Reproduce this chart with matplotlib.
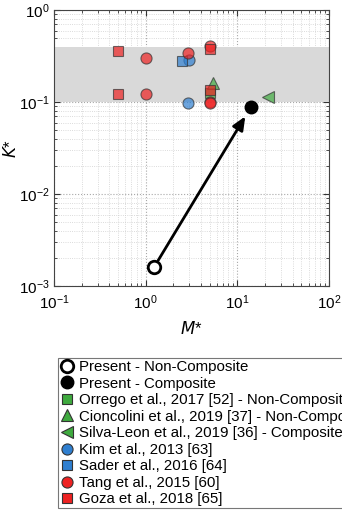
import numpy as np
import matplotlib
matplotlib.use("Agg")
from matplotlib import pyplot as plt
from matplotlib.ticker import LogLocator, NullFormatter

plt.rcParams['font.family'] = ['Liberation Sans', 'DejaVu Sans']

# data (M*, K*)
present_nc_m = [1.23]
present_nc_k = [0.0016]
present_c_m = [14.1]
present_c_k = [0.089]
orrego_m = [5.0]
orrego_k = [0.125]
cioncolini_m = [5.4]
cioncolini_k = [0.16]
silva_m = [21.5]
silva_k = [0.113]
kim_m = [2.88, 2.98]
kim_k = [0.098, 0.29]
sader_m = [2.5]
sader_k = [0.28]
tang_m = [1.0, 1.0, 2.88, 5.0, 5.0, 5.0]
tang_k = [0.30, 0.122, 0.345, 0.41, 0.10, 0.097]
goza_m = [0.5, 0.5, 5.0, 5.0]
goza_k = [0.36, 0.122, 0.38, 0.137]
band_lo, band_hi = 0.1, 0.4

green = '#3faa3f'
blue = '#2f7fd0'
red = '#ee2222'
edge = '#333333'

fig = plt.figure(figsize=(3.42, 5.11), dpi=100)
ax = fig.add_axes([0.158, 0.440, 0.804, 0.540])

ax.axhspan(band_lo, band_hi, color='#d9d9d9', zorder=1, lw=0)

def pts(m, k, marker, color, label, ms=8, alpha=0.7):
    ax.plot(m, k, ls='none', marker=marker, ms=ms, mfc=color, mec=edge,
            mew=0.8, alpha=alpha, zorder=3)
    # legend handle at full opacity
    return ax.plot([], [], ls='none', marker=marker, ms=ms, mfc=color,
                   mec=edge, mew=0.8, label=label)[0]

h1 = ax.plot(present_nc_m, present_nc_k, ls='none', marker='o', ms=9, mfc='white',
             mec='black', mew=2, zorder=5, label='Present - Non-Composite')[0]
h2 = ax.plot(present_c_m, present_c_k, ls='none', marker='o', ms=9, mfc='black',
             mec='black', zorder=5, label='Present - Composite')[0]
h3 = pts(orrego_m, orrego_k, 's', green, 'Orrego et al., 2017 [52] - Non-Composite', ms=7.5)
h4 = pts(cioncolini_m, cioncolini_k, '^', green, 'Cioncolini et al., 2019 [37] - Non-Composite')
h5 = pts(silva_m, silva_k, '<', green, 'Silva-Leon et al., 2019 [36] - Composite')
h6 = pts(kim_m, kim_k, 'o', blue, 'Kim et al., 2013 [63]')
h7 = pts(sader_m, sader_k, 's', blue, 'Sader et al., 2016 [64]', ms=7.5)
h8 = pts(tang_m, tang_k, 'o', red, 'Tang et al., 2015 [60]')
h9 = pts(goza_m, goza_k, 's', red, 'Goza et al., 2018 [65]', ms=7.5)

# arrow from non-composite to composite
ax.annotate('', xy=(present_c_m[0], present_c_k[0]), xytext=(present_nc_m[0], present_nc_k[0]),
            arrowprops=dict(arrowstyle='-|>,head_length=0.8,head_width=0.35', color='black',
                            lw=2, shrinkA=6, shrinkB=8), zorder=4)

ax.set_xscale('log')
ax.set_yscale('log')
ax.set_xlim(0.1, 100)
ax.set_ylim(1e-3, 1)
ax.xaxis.set_major_locator(LogLocator(base=10, numticks=10))
ax.yaxis.set_major_locator(LogLocator(base=10, numticks=10))
ax.xaxis.set_minor_locator(LogLocator(base=10, subs=np.arange(2, 10), numticks=20))
ax.yaxis.set_minor_locator(LogLocator(base=10, subs=np.arange(2, 10), numticks=20))
ax.xaxis.set_minor_formatter(NullFormatter())
ax.yaxis.set_minor_formatter(NullFormatter())

ax.grid(True, which='major', ls=':', color='#a8a8a8', lw=0.8, zorder=0)
ax.grid(True, which='minor', ls=':', color='#cfcfcf', lw=0.6, zorder=0)
ax.set_axisbelow(True)
ax.tick_params(which='both', direction='in', top=True, right=True, colors='#333333',
               labelcolor='black', labelsize=11)
ax.tick_params(which='major', length=4)
ax.tick_params(which='minor', length=2)
ax.tick_params(axis='x', pad=5)
ax.tick_params(axis='y', pad=3)
for s in ax.spines.values():
    s.set_color('#444444')
    s.set_linewidth(0.8)

ax.set_xlabel('$M$*', fontsize=12, labelpad=6)
ax.set_ylabel('$K$*', fontsize=12, labelpad=0)

# legend runs past the right edge, as in the original figure
leg = fig.legend(handles=[h1, h2, h3, h4, h5, h6, h7, h8, h9], loc='upper left',
                 bbox_to_anchor=(0.170, 0.299), fontsize=10.8, frameon=True, fancybox=False,
                 edgecolor='#555555', labelspacing=0.17, handletextpad=0.3,
                 handlelength=1.0, borderpad=0.12, borderaxespad=0)
leg.get_frame().set_linewidth(0.8)

fig.savefig('out.png', dpi=100)
